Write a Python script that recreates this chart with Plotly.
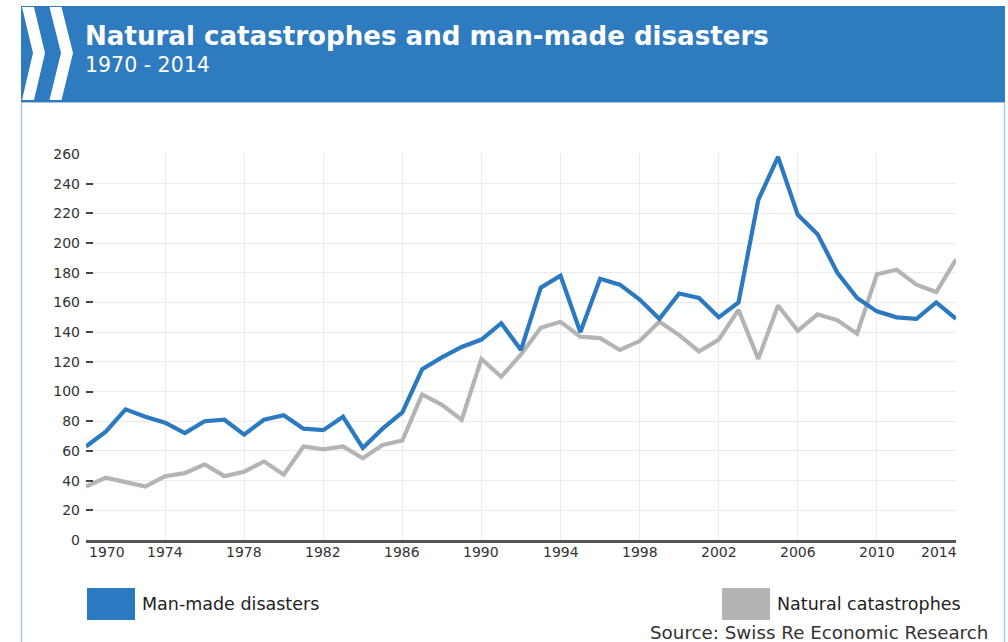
import plotly.graph_objects as go

# ---- data -------------------------------------------------------------
years = list(range(1970, 2015))

man_made = [63, 73, 88, 83, 79, 72, 80, 81, 71, 81,
            84, 75, 74, 83, 62, 75, 86, 115, 123, 130,
            135, 146, 128, 170, 178, 140, 176, 172, 162, 149,
            166, 163, 150, 160, 229, 258, 219, 206, 180, 163,
            154, 150, 149, 160, 149]

natural = [36, 42, 39, 36, 43, 45, 51, 43, 46, 53,
           44, 63, 61, 63, 55, 64, 67, 98, 91, 81,
           122, 110, 125, 143, 147, 137, 136, 128, 134, 147,
           138, 127, 135, 155, 122, 158, 141, 152, 148, 139,
           179, 182, 172, 167, 189]

x_ticks = list(range(1970, 2015, 4))
y_ticks = list(range(0, 261, 20))

series_names = ["Man-made disasters", "Natural catastrophes"]
series_colors = ["#2b79c0", "#b4b4b4"]

title_text = "Natural catastrophes and man-made disasters"
subtitle_text = "1970 - 2014"
source_text = "Source: Swiss Re Economic Research"

# ---- geometry (pixels) ------------------------------------------------
W, H = 1008, 642
PL, PR, PT, PB = 86, 956, 154, 540   # plot area edges

FONT = "DejaVu Sans"


def px(x, y):
    """Convert page pixel position to paper coordinates."""
    return (x - PL) / (PR - PL), (PB - y) / (PB - PT)


fig = go.Figure()

# grey series first so the blue one sits on top
for name, vals, col in zip(series_names[::-1], [natural, man_made],
                           series_colors[::-1]):
    fig.add_trace(go.Scatter(
        x=years, y=vals, name=name, mode="lines",
        line=dict(color=col, width=4.2, shape="linear"),
        showlegend=False,
    ))

shapes = []

# header band
x0, y0 = px(21, 102)
x1, y1 = px(1005, 6)
shapes.append(dict(type="rect", xref="paper", yref="paper",
                   x0=x0, y0=y0, x1=x1, y1=y1,
                   fillcolor="#2f7bbf", line=dict(width=0), layer="above"))

# side borders of the panel
for bx in (21.5, 1004.5):
    a, b = px(bx, 102)
    c, d = px(bx, 642)
    shapes.append(dict(type="line", xref="paper", yref="paper",
                       x0=a, y0=b, x1=c, y1=d,
                       line=dict(color="#a9cbe8", width=1.5)))
# thin line under the header
a, b = px(21, 102.5)
c, d = px(1005, 102.5)
shapes.append(dict(type="line", xref="paper", yref="paper",
                   x0=a, y0=b, x1=c, y1=d,
                   line=dict(color="#9fc4e6", width=1)))


# chevrons in the header
def chevron(left, width, tip, top, mid, bottom):
    pts = [(left, top), (left + width, top), (tip + width, mid),
           (left + width, bottom), (left, bottom), (tip, mid)]
    path = ""
    for i, (x, y) in enumerate(pts):
        u, v = px(x, y)
        path += ("M" if i == 0 else "L") + f"{u:.5f},{v:.5f} "
    return path + "Z"


for left, tip in ((22, 33), (49.5, 61)):
    shapes.append(dict(type="path", xref="paper", yref="paper",
                       path=chevron(left, 12, tip, 7, 53, 100),
                       fillcolor="white", line=dict(width=0), layer="above"))

# legend swatches
for (sx0, sx1), col in zip([(87, 135), (722, 770)], series_colors):
    a, b = px(sx0, 620)
    c, d = px(sx1, 588)
    shapes.append(dict(type="rect", xref="paper", yref="paper",
                       x0=a, y0=b, x1=c, y1=d,
                       fillcolor=col, line=dict(width=0)))

annotations = []


def add_text(text, x, y, size, anchor="left", bold=False, color="#222"):
    u, v = px(x, y)
    annotations.append(dict(
        text=f"<b>{text}</b>" if bold else text,
        xref="paper", yref="paper", x=u, y=v,
        xanchor=anchor, yanchor="middle", showarrow=False,
        font=dict(family=FONT, size=size, color=color),
    ))


add_text(title_text, 83, 36, 26.1, bold=True, color="white")
add_text(subtitle_text, 83, 65, 20.5, color="white")
add_text(series_names[0], 140, 604, 17.5)
add_text(series_names[1], 775, 604, 17.5)
add_text(source_text, 990, 632, 18.3, anchor="right", color="#333")

# x tick labels: the end labels are kept inside the plot width
_, ty = px(0, 552)
for yr in x_ticks:
    anchor = "left" if yr == x_ticks[0] else (
        "right" if yr == x_ticks[-1] else "center")
    annotations.append(dict(
        text=str(yr), x=yr, xref="x", y=ty, yref="paper",
        xanchor=anchor, yanchor="middle", showarrow=False,
        xshift=(1 if anchor == "left" else (3 if anchor == "right" else 0)),
        font=dict(family=FONT, size=14, color="#333"),
    ))

fig.update_layout(
    width=W, height=H,
    margin=dict(l=PL, r=W - PR, t=PT, b=H - PB, pad=0, autoexpand=False),
    paper_bgcolor="white", plot_bgcolor="white",
    shapes=shapes, annotations=annotations,
    showlegend=False,
    xaxis=dict(
        range=[1970, 2014], tickvals=x_ticks, showticklabels=False,
        showgrid=True, gridcolor="#ebebeb", gridwidth=1,
        showline=True, linecolor="#555555", linewidth=2.5,
        ticks="", zeroline=False,
    ),
    yaxis=dict(
        range=[0, 260], tickvals=y_ticks,
        showgrid=True, gridcolor="#ebebeb", gridwidth=1,
        showline=False, zeroline=False,
        ticks="inside", ticklen=7, tickwidth=2, tickcolor="#444",
        ticklabelstandoff=5,
        tickfont=dict(family=FONT, size=14, color="#333"),
    ),
)

fig.write_html("out.html")
